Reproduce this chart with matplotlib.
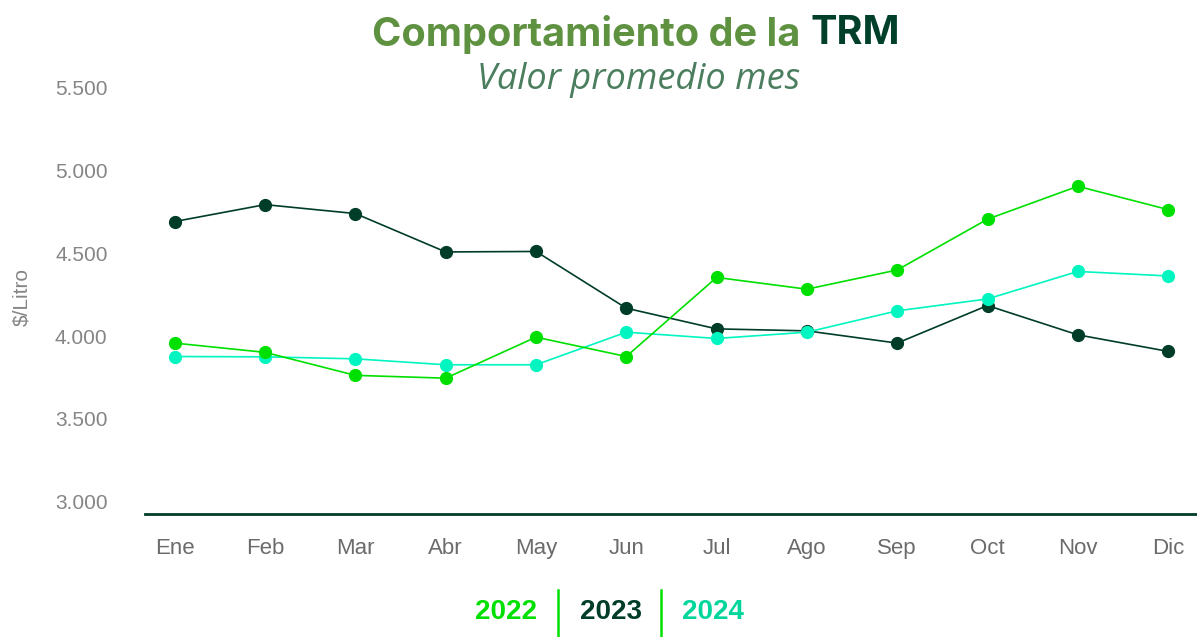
import matplotlib
matplotlib.use("Agg")
import matplotlib.pyplot as plt
from matplotlib.lines import Line2D

months = ["Ene", "Feb", "Mar", "Abr", "May", "Jun", "Jul", "Ago", "Sep", "Oct", "Nov", "Dic"]
trm_2022 = [3958, 3902, 3763, 3746, 3994, 3877, 4355, 4284, 4400, 4707, 4906, 4765]
trm_2023 = [4693, 4795, 4741, 4509, 4512, 4169, 4044, 4032, 3958, 4185, 4008, 3908]
trm_2024 = [3877, 3875, 3863, 3827, 3827, 4024, 3986, 4024, 4153, 4225, 4391, 4364]
yticks = [3000, 3500, 4000, 4500, 5000, 5500]
ytick_labels = ["3.000", "3.500", "4.000", "4.500", "5.000", "5.500"]
years = ["2022", "2023", "2024"]

c2022 = "#00e000"
c2023 = "#003d28"
c2024 = "#00f5c0"
c2024_text = "#00d69c"

W, H = 1197, 637
fig = plt.figure(figsize=(W / 100, H / 100), dpi=100)
ax = fig.add_axes([145 / W, 1 - 514 / H, 1052 / W, (514 - 88) / H])

x = list(range(len(months)))
ax.plot(x, trm_2022, color=c2022, lw=1.2, marker="o", ms=8.5, zorder=3)
ax.plot(x, trm_2023, color=c2023, lw=1.2, marker="o", ms=8.5, zorder=2)
ax.plot(x, trm_2024, color=c2024, lw=1.2, marker="o", ms=8.5, zorder=2.5)

ax.set_xlim(-0.33, 11.32)
ax.set_ylim(2925, 5500)
ax.set_yticks(yticks)
ax.set_yticklabels(ytick_labels)
ax.set_xticks(x)
ax.set_xticklabels(months)

for s in ["top", "right", "left"]:
    ax.spines[s].set_visible(False)
ax.spines["bottom"].set_color(c2023)
ax.spines["bottom"].set_linewidth(2)
ax.tick_params(axis="both", length=0)
ax.tick_params(axis="y", pad=27, labelsize=15, labelcolor="#858585")
ax.tick_params(axis="x", pad=17, labelsize=16, labelcolor="#6b6b6b")
for lab in ax.get_xticklabels() + ax.get_yticklabels():
    lab.set_fontfamily("Liberation Sans")

fig.text(22 / W, 1 - 297 / H, "$/Litro", rotation=90, ha="center", va="center",
         fontsize=15, color="#858585", family="Liberation Sans")

# Title in two colours
fig.canvas.draw()
r = fig.canvas.get_renderer()
title_y = 1 - 34 / H
t1 = fig.text(0, title_y, "Comportamiento de la ", fontsize=24, fontweight="bold",
              color="#5e9140", family="Inter", ha="left", va="center")
t2 = fig.text(0, title_y, "TRM", fontsize=24, fontweight="bold",
              color="#00402a", family="Inter", ha="left", va="center")
w_total = t1.get_window_extent(r).width + t2.get_window_extent(r).width
fs = 24 * 528 / w_total
t1.set_fontsize(fs)
t2.set_fontsize(fs)
w1 = t1.get_window_extent(r).width
w2 = t2.get_window_extent(r).width
start = 636 - (w1 + w2) / 2
t1.set_x(start / W)
t2.set_x((start + w1) / W)

st = fig.text(639 / W, 1 - 80 / H, "Valor promedio mes", fontsize=22, style="italic",
              color="#4b7d5f", family="Open Sans", ha="center", va="center")
sw = st.get_window_extent(r).width
st.set_fontsize(22 * 322 / sw)

# Legend
leg_y = 1 - 612 / H
for xp, yr, col in zip([506, 611, 713], years, [c2022, c2023, c2024_text]):
    fig.text(xp / W, leg_y, yr, fontsize=20, fontweight="bold", color=col,
             family="Liberation Sans", ha="center", va="center")
for xp in [558, 661]:
    fig.add_artist(Line2D([xp / W, xp / W], [1 - 590 / H, 1 - 636 / H],
                          color=c2022, lw=1.8, transform=fig.transFigure))

fig.savefig("out.png", dpi=100)
